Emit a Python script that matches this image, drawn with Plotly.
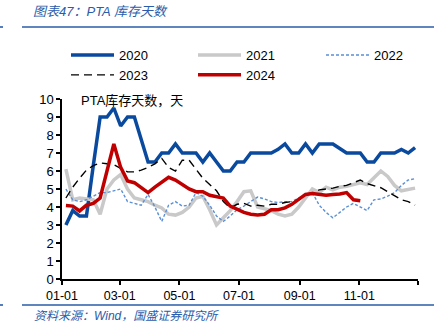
import plotly.graph_objects as go
import pandas as pd

# ---------------- data ----------------
years = ["2020", "2021", "2022", "2023", "2024"]

v2020 = [3.0, 3.8, 3.5, 3.5, 6.3, 9.0, 9.0, 9.5, 8.5, 9.0, 9.0, 7.8, 6.5, 6.5, 7.0, 7.0,
         7.5, 7.0, 7.0, 7.0, 6.5, 7.0, 6.5, 6.0, 6.0, 6.5, 6.5, 7.0, 7.0, 7.0, 7.0, 7.2,
         7.5, 7.0, 7.0, 7.5, 7.0, 7.5, 7.5, 7.5, 7.25, 7.0, 7.0, 7.0, 6.5, 6.5, 7.0, 7.0,
         7.0, 7.2, 7.0, 7.3]
v2021 = [6.1, 4.4, 4.5, 4.45, 4.4, 3.6, 5.0, 5.5, 5.8, 5.0, 4.5, 4.4, 4.3, 4.1, 3.95, 3.6,
         3.55, 3.7, 4.0, 4.5, 4.6, 3.85, 3.0, 3.4, 3.8, 4.3, 4.85, 4.9, 4.0, 3.9, 3.8, 3.6,
         3.5, 3.6, 4.0, 4.5, 5.0, 4.8, 5.1, 4.95, 5.1, 5.15, 5.25, 5.35, 5.25, 5.6, 6.0, 5.7,
         5.2, 4.9, 5.0, 5.05]
v2022 = [5.0, 4.4, 4.3, 4.4, 4.6, 4.8, 4.8, 4.9, 5.0, 4.3, 4.2, 4.1, 4.7, 4.0, 3.2, 4.1,
         4.3, 4.05, 4.1, 4.8, 4.6, 4.1, 3.5, 3.2, 3.5, 3.85, 4.05, 4.3, 4.55, 4.45, 4.3, 4.25,
         4.3, 4.3, 4.5, 4.65, 4.8, 4.1, 3.7, 3.4, 3.7, 4.0, 4.2, 4.0, 3.8, 4.4, 4.45, 4.6,
         4.8, 5.2, 5.5, 5.57]
v2023 = [4.5, 5.1, 5.6, 6.05, 6.3, 6.45, 6.4, 6.35, 6.15, 5.95, 5.95, 6.05, 6.2, 6.4, 6.7, 6.2,
         6.0, 6.6, 6.6, 6.1, 5.6, 5.25, 4.9, 4.3, 3.95, 4.15, 4.2, 4.05, 4.1, 4.05, 4.15, 4.15,
         4.25, 4.3, 4.4, 4.7, 4.8, 4.95, 5.0, 5.05, 5.15, 5.2, 5.35, 5.5, 5.3, 5.2, 5.07, 4.85,
         4.6, 4.4, 4.3, 4.1]
v2024 = [4.08, 4.05, 3.78, 4.1, 4.2, 4.5, 6.0, 7.5, 6.2, 5.45, 5.35, 5.05, 4.8, 5.1, 5.35, 5.65,
         5.5, 5.25, 5.0, 4.85, 4.85, 4.65, 4.55, 4.5, 4.05, 3.85, 3.7, 3.6, 3.55, 3.6, 3.85, 3.85,
         3.95, 4.15, 4.45, 4.7, 4.75, 4.7, 4.65, 4.7, 4.72, 4.8, 4.4, 4.35]

tick_vals = ["2021-01-01", "2021-03-01", "2021-05-01", "2021-07-01", "2021-09-01",
             "2021-11-01", "2021-12-31"]
tick_text = ["01-01", "03-01", "05-01", "07-01", "09-01", "11-01", ""]

y_ticks = [0, 1, 2, 3, 4, 5, 6, 7, 8, 9, 10]

# weekly dates mapped on a common year
weeks = pd.date_range("2021-01-05", periods=52, freq="7D")

series = [v2020, v2021, v2022, v2023, v2024]
styles = [
    dict(color="#0a4a9e", width=3.5, dash="solid"),
    dict(color="#c9c9c9", width=3.5, dash="solid"),
    dict(color="#5b8fd6", width=1.4, dash="3px,2px"),
    dict(color="#000000", width=1.4, dash="8px,5px"),
    dict(color="#c00000", width=3.5, dash="solid"),
]
legend_ids = ["legend", "legend2", "legend3", "legend", "legend2"]

FONT = "Liberation Sans, Arial, Noto Sans CJK SC, sans-serif"

fig = go.Figure()
for name, vals, st, lg in zip(years, series, styles, legend_ids):
    fig.add_trace(go.Scatter(
        x=weeks[:len(vals)], y=vals, mode="lines", name=name,
        line=st, legend=lg,
    ))

PLOT_TOP, PLOT_BOTTOM, PLOT_LEFT, PLOT_RIGHT = 99, 279, 62, 418
PW, PH = PLOT_RIGHT - PLOT_LEFT, PLOT_BOTTOM - PLOT_TOP


def px_x(x):
    return (x - PLOT_LEFT) / PW


def px_y(y):
    return (PLOT_BOTTOM - y) / PH


def legend_box(xpix):
    return dict(
        orientation="v", x=px_x(xpix), xanchor="left", y=px_y(40), yanchor="top",
        font=dict(size=13, family=FONT), bgcolor="rgba(0,0,0,0)",
        tracegroupgap=0, itemwidth=43, traceorder="normal",
    )


fig.update_layout(
    width=434, height=333,
    margin=dict(l=PLOT_LEFT, r=434 - PLOT_RIGHT, t=PLOT_TOP, b=333 - PLOT_BOTTOM,
                autoexpand=False),
    paper_bgcolor="white", plot_bgcolor="white",
    font=dict(family=FONT, size=13, color="#000000"),
    showlegend=True,
    legend=legend_box(66),
    legend2=legend_box(193),
    legend3=legend_box(321),
    xaxis=dict(
        type="date", range=["2021-01-01", "2021-12-31"],
        tickmode="array", tickvals=tick_vals, ticktext=tick_text,
        showgrid=False, zeroline=False,
        showline=True, linecolor="#000000", linewidth=1.5,
        ticks="outside", ticklen=4, tickwidth=1.5, tickcolor="#000000",
        tickfont=dict(size=12.5, family=FONT),
    ),
    yaxis=dict(
        range=[0, 10], tickmode="array", tickvals=y_ticks,
        showgrid=False, zeroline=False,
        showline=True, linecolor="#000000", linewidth=1.5,
        ticks="outside", ticklen=4, tickwidth=1.5, tickcolor="#000000",
        tickfont=dict(size=13, family=FONT),
    ),
)

blue = "#2a5caa"
# header / footer rules
for yy in (27, 305):
    fig.add_shape(type="line", xref="paper", yref="paper",
                  x0=px_x(22), x1=px_x(434), y0=px_y(yy), y1=px_y(yy),
                  line=dict(color=blue, width=1.6))
    fig.add_shape(type="line", xref="paper", yref="paper",
                  x0=px_x(0), x1=px_x(3), y0=px_y(yy), y1=px_y(yy),
                  line=dict(color=blue, width=1.6))

fig.add_annotation(text="<i>图表47：PTA 库存天数</i>", xref="paper", yref="paper",
                   x=px_x(31), y=px_y(12), xanchor="left", yanchor="middle",
                   showarrow=False, font=dict(size=13, color=blue, family=FONT))
fig.add_annotation(text="<i>资料来源：Wind，国盛证券研究所</i>", xref="paper", yref="paper",
                   x=px_x(32), y=px_y(316), xanchor="left", yanchor="middle",
                   showarrow=False, font=dict(size=12, color=blue, family=FONT))
fig.add_annotation(text="PTA库存天数，天", xref="paper", yref="paper",
                   x=px_x(79), y=px_y(100), xanchor="left", yanchor="middle",
                   showarrow=False, font=dict(size=13, color="#000000", family=FONT))

fig.write_html("out.html")
